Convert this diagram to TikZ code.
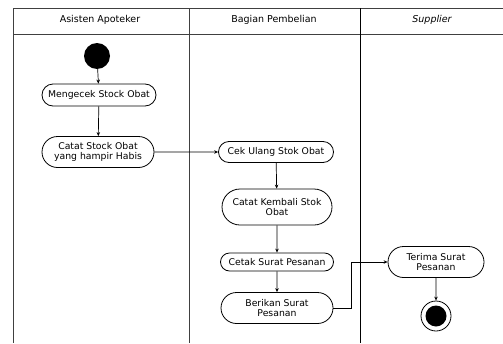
\documentclass[tikz,border=0pt]{standalone}
\usepackage{fontspec}
\setmainfont{DejaVu Sans}
\usetikzlibrary{shapes.misc,arrows.meta}
\begin{document}
\begin{tikzpicture}[x=1pt,y=-1pt,
  lane/.style={draw=black!75,line width=0.9pt},
  act/.style={rounded rectangle,draw,line width=0.8pt,font=\fontsize{9.3}{9.6}\selectfont,
    align=center,inner sep=1pt},
  flow/.style={draw,line width=0.7pt,-{Stealth[length=4pt,width=3.5pt]}},
  head/.style={font=\fontsize{9.5}{10}\selectfont}]
\useasboundingbox (0,0) rectangle (503,343);
% swimlane frame
\draw[lane] (503,8) -- (13,8) -- (13,343);
\draw[lane] (13,34) -- (503,34);
\draw[lane] (189,8) -- (189,343);
\draw[lane,draw=black] (360,8) -- (360,343);
\node[head] (h1) at (100,20) {Asisten Apoteker};
\node[head] (h2) at (274,20) {Bagian Pembelian};
\node[head] (h3) at (432,20) {\itshape Supplier};
% start and end
\node[circle,fill=black,minimum size=26pt,inner sep=0] (start) at (97,56) {};
\node[circle,draw,line width=0.8pt,minimum size=30pt,inner sep=0] (end) at (436,316) {};
\node[circle,fill=black,minimum size=21pt,inner sep=0] at (end) {};
% activities
\node[act,minimum width=116pt,minimum height=22pt] (a1) at (99,95) {Mengecek Stock Obat};
\node[act,minimum width=114pt,minimum height=31pt] (a2) at (98,152) {Catat Stock Obat\\yang hampir Habis};
\node[act,minimum width=117pt,minimum height=21pt] (b1) at (276,152) {Cek Ulang Stok Obat};
\node[act,minimum width=112pt,minimum height=36pt] (b2) at (277,207) {Catat Kembali Stok\\Obat};
\node[act,minimum width=115pt,minimum height=18pt] (b3) at (277,262) {Cetak Surat Pesanan};
\node[act,minimum width=114pt,minimum height=31pt] (b4) at (277,308) {Berikan Surat\\Pesanan};
\node[act,minimum width=98pt,minimum height=31pt] (c1) at (436,262) {Terima Surat\\Pesanan};
% flows
\draw[flow] (start) -- (a1);
\draw[flow] (a1) -- (a2);
\draw[flow] (a2) -- (b1);
\draw[flow] (b1) -- (b2);
\draw[flow] (b2) -- (b3);
\draw[flow] (b3) -- (b4);
\draw[flow] (b4.east) -- (351,308) -- (351,262) -- (c1.west);
\draw[flow] (c1) -- (end);
\end{tikzpicture}
\end{document}
